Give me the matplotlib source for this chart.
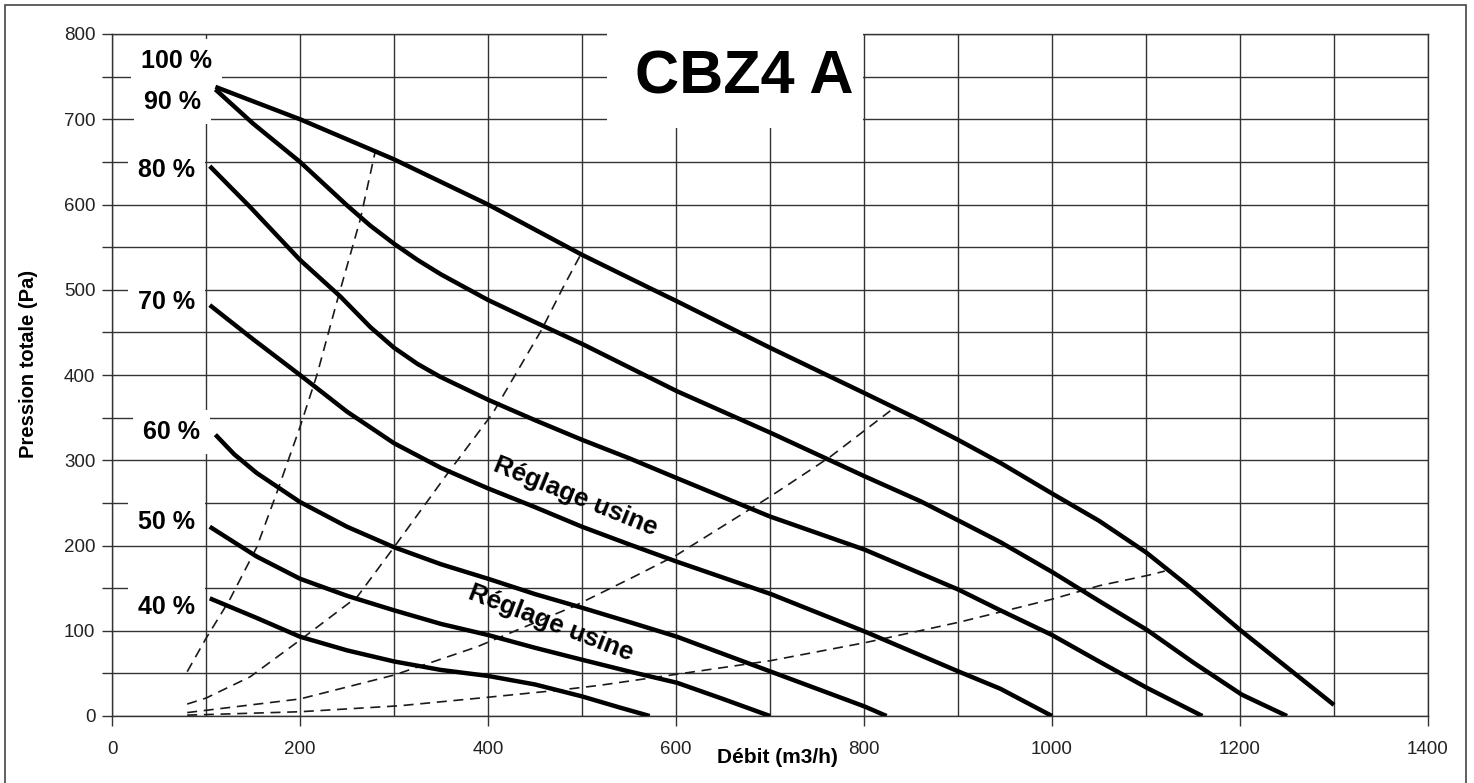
import numpy as np
import matplotlib
matplotlib.use('Agg')
import matplotlib.pyplot as plt
from matplotlib.patches import Rectangle

plt.rcParams['font.family'] = ['Liberation Sans', 'DejaVu Sans']

# fan curves (speed setting -> debit / pression)
x100 = [110, 200, 300, 400, 500, 572, 600, 700, 800, 856, 900, 945, 1000, 1050, 1100, 1150, 1200, 1250, 1300]
y100 = [738, 700, 653, 600, 541, 502, 487, 432, 379, 349, 324, 297, 261, 229, 192, 148, 101, 57, 13]

x90 = [110, 150, 200, 250, 275, 300, 325, 350, 400, 450, 501, 601, 701, 801, 860, 901, 945, 1000, 1050, 1101, 1150, 1202, 1250]
y90 = [735, 695, 650, 599, 575, 554, 535, 518, 488, 462, 436, 381, 332, 281, 252, 229, 204, 169, 135, 101, 63, 25, 0]

x80 = [104, 147, 200, 243, 275, 300, 325, 349, 400, 450, 500, 551, 601, 700, 801, 901, 945, 1000, 1050, 1101, 1160]
y80 = [645, 597, 535, 492, 456, 432, 413, 398, 371, 347, 324, 302, 279, 234, 195, 148, 124, 95, 64, 33, 0]

x70 = [104, 150, 200, 250, 300, 350, 400, 450, 500, 551, 601, 701, 801, 901, 945, 1000]
y70 = [482, 442, 400, 357, 320, 291, 267, 245, 222, 201, 181, 143, 99, 52, 32, 0]

x60 = [110, 130, 154, 200, 250, 300, 350, 400, 450, 500, 551, 601, 701, 801, 824]
y60 = [330, 307, 285, 251, 222, 198, 178, 161, 143, 127, 110, 93, 52, 11, 0]

x50 = [104, 154, 200, 250, 300, 350, 400, 450, 500, 551, 601, 650, 700]
y50 = [222, 187, 161, 141, 124, 108, 95, 80, 66, 52, 39, 20, 0]

x40 = [104, 154, 200, 250, 300, 350, 400, 450, 500, 540, 572]
y40 = [138, 115, 93, 77, 64, 54, 47, 37, 23, 10, 0]

curves_x = [x100, x90, x80, x70, x60, x50, x40]
curves_y = [y100, y90, y80, y70, y60, y50, y40]
pct_labels = ['100 %', '90 %', '80 %', '70 %', '60 %', '50 %', '40 %']
pct_pos = [(69, 768), (64, 720), (58, 640), (58, 486), (63, 333), (58, 228), (58, 128)]

# network curves (dashed)
d1x = [80, 100, 125, 154, 175, 200, 218, 239, 264, 280]
d1y = [52, 91, 136, 198, 261, 339, 400, 485, 582, 662]
d2x = [80, 100, 147, 200, 261, 300, 356, 405, 457, 480, 498]
d2y = [14, 21, 46, 89, 140, 198, 283, 355, 453, 503, 540]
d3x = [80, 200, 300, 388, 490, 551, 601, 701, 764, 828]
d3y = [4, 20, 48, 81, 128, 161, 189, 258, 304, 358]
d4x = [80, 200, 306, 400, 473, 519, 601, 701, 801, 847, 901, 1000, 1051, 1102, 1120]
d4y = [1, 5, 12, 22, 30, 36, 49, 65, 86, 97, 110, 137, 153, 165, 170]

dashed_x = [d1x, d2x, d3x, d4x]
dashed_y = [d1y, d2y, d3y, d4y]

fig = plt.figure(figsize=(14.74, 7.83), dpi=100)
ax = fig.add_axes([112 / 1474, 67 / 783, 1316 / 1474, 682 / 783])

for xs, ys in zip(curves_x, curves_y):
    ax.plot(xs, ys, color='black', lw=3.2, solid_joinstyle='round', solid_capstyle='butt', zorder=5)

for xs, ys in zip(dashed_x, dashed_y):
    ax.plot(xs, ys, color='#1a1a1a', lw=1.2, linestyle=(0, (6, 4)), zorder=4)

for lab, (px, py) in zip(pct_labels, pct_pos):
    ax.text(px, py, lab, fontsize=18, fontweight='bold', ha='center', va='center', zorder=4,
            bbox=dict(boxstyle='square,pad=0.4', fc='white', ec='none'))

ax.text(493, 257, 'Réglage usine', fontsize=18.5, fontweight='bold', rotation=-22,
        ha='center', va='center', rotation_mode='anchor', zorder=6)
ax.text(467, 109, 'Réglage usine', fontsize=18.5, fontweight='bold', rotation=-21,
        ha='center', va='center', rotation_mode='anchor', zorder=6)

# title box
ax.add_patch(Rectangle((527, 690), 272, 113, fc='white', ec='none', zorder=3, clip_on=False))
ax.text(673, 748, 'CBZ4 A', fontsize=44, fontweight='bold', ha='center', va='center', zorder=4)

ax.set_xlim(0, 1400)
ax.set_ylim(0, 800)
ax.set_xticks(np.arange(0, 1401, 200))
ax.set_xticks(np.arange(0, 1401, 100), minor=True)
ax.set_yticks(np.arange(0, 801, 100))
ax.set_yticks(np.arange(0, 801, 50), minor=True)
ax.grid(which='both', color='#333333', lw=1.0)
ax.set_axisbelow(True)

ax.tick_params(axis='x', which='major', length=7, width=1, pad=11, labelsize=13.5,
               labelcolor='#222222', color='#333333')
ax.tick_params(axis='x', which='minor', length=0)
ax.tick_params(axis='y', which='both', length=7, width=1, pad=5, labelsize=13.5,
               labelcolor='#222222', color='#333333')
for sp in ax.spines.values():
    sp.set_color('#333333')
    sp.set_linewidth(1.0)

ax.set_xlabel('Débit (m3/h)', fontsize=15, fontweight='bold')
ax.xaxis.set_label_coords(0.506, -0.047)
ax.set_ylabel('Pression totale (Pa)', fontsize=14.5, fontweight='bold')
ax.yaxis.set_label_coords(-0.056, 0.516)

fig.patches.append(Rectangle((5 / 1474, -0.02), 1461 / 1474, 1.0136, transform=fig.transFigure,
                             fill=False, ec='#444444', lw=1.2))

fig.savefig('out.png', dpi=100)
